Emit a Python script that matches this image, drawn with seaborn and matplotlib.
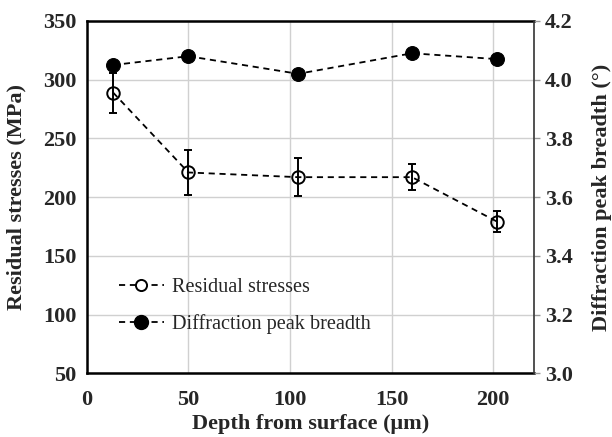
import matplotlib
matplotlib.use("Agg")
import matplotlib.pyplot as plt
import seaborn as sns
import pandas as pd
from matplotlib.lines import Line2D

# Depth-profile measurements
depth = [13, 50, 104, 160, 202]
residual_stress = [289, 221, 217, 217, 179]
stress_error = [17, 19, 16, 11, 9]
peak_breadth = [4.05, 4.08, 4.02, 4.09, 4.07]

x_ticks = [0, 50, 100, 150, 200]
left_ticks = [50, 100, 150, 200, 250, 300, 350]
right_ticks = [3.0, 3.2, 3.4, 3.6, 3.8, 4.0, 4.2]

sns.set_theme(style="white")
plt.rcParams["font.family"] = ["Liberation Serif", "DejaVu Serif"]

df = pd.DataFrame({"depth": depth, "stress": residual_stress,
                   "err": stress_error, "breadth": peak_breadth})

fig = plt.figure(figsize=(6.12, 4.37), dpi=100)
ax = fig.add_axes([0.1417, 0.1458, 0.8725 - 0.1417, 0.952 - 0.1458])
ax2 = ax.twinx()

dash = (0, (3.4, 2.6))
grid_c = "#d0d0d0"

# Residual stresses (left axis)
ax.errorbar(df["depth"], df["stress"], yerr=df["err"], fmt="none",
            ecolor="black", elinewidth=1.4, capsize=3, capthick=1.4, zorder=3)
sns.lineplot(data=df, x="depth", y="stress", ax=ax, color="black",
             linewidth=1.3, marker="o", markersize=9,
             markerfacecolor="none", markeredgecolor="black",
             markeredgewidth=1.4, zorder=4)
ax.lines[-1].set_linestyle(dash)

# Diffraction peak breadth (right axis)
sns.lineplot(data=df, x="depth", y="breadth", ax=ax2, color="black",
             linewidth=1.3, marker="o", markersize=10,
             markerfacecolor="black", markeredgecolor="black", zorder=4)
ax2.lines[-1].set_linestyle(dash)

ax.set_xlim(0, 220)
ax.set_ylim(50, 350)
ax2.set_ylim(3.0, 4.2)
ax.set_xticks(x_ticks)
ax.set_yticks(left_ticks)
ax2.set_yticks(right_ticks)
ax2.set_yticklabels([f"{v:.1f}" for v in right_ticks])

ax.grid(True, color=grid_c, linewidth=1.0)
ax.set_axisbelow(True)
ax2.grid(False)

for lab in ax.get_xticklabels() + ax.get_yticklabels() + ax2.get_yticklabels():
    lab.set_fontsize(16)
    lab.set_fontweight("bold")

ax.tick_params(axis="y", length=0, pad=7.5)
ax.tick_params(axis="x", length=0, pad=12)
ax2.tick_params(axis="y", length=4, width=1, color="#999999", pad=4,
                direction="out")

ax.set_xlabel("Depth from surface (μm)", fontsize=16, fontweight="bold",
              labelpad=3)
ax.set_ylabel("Residual stresses (MPa)", fontsize=16, fontweight="bold")
ax2.set_ylabel("Diffraction peak breadth (°)", fontsize=16, fontweight="bold")
ax.yaxis.set_label_coords(-0.134, 0.5)
ax2.yaxis.set_label_coords(1.130, 0.5)

for name in ["left", "bottom", "top"]:
    ax.spines[name].set_linewidth(1.8)
    ax.spines[name].set_color("black")
    ax2.spines[name].set_visible(False)
ax.spines["right"].set_visible(False)
ax2.spines["right"].set_linewidth(1.2)
ax2.spines["right"].set_color("#333333")

handles = [
    Line2D([], [], color="black", linestyle=dash, linewidth=1.3, marker="o",
           markersize=8, markerfacecolor="white", markeredgecolor="black",
           markeredgewidth=1.4),
    Line2D([], [], color="black", linestyle=dash, linewidth=1.3, marker="o",
           markersize=10, markerfacecolor="black", markeredgecolor="black"),
]
leg = ax.legend(handles, ["Residual stresses", "Diffraction peak breadth"],
                loc="lower left", bbox_to_anchor=(0.072, 0.112), frameon=False,
                fontsize=14.6, handlelength=2.2, handletextpad=0.4,
                labelspacing=0.85, borderpad=0, borderaxespad=0)

fig.savefig("out.png", dpi=100)
